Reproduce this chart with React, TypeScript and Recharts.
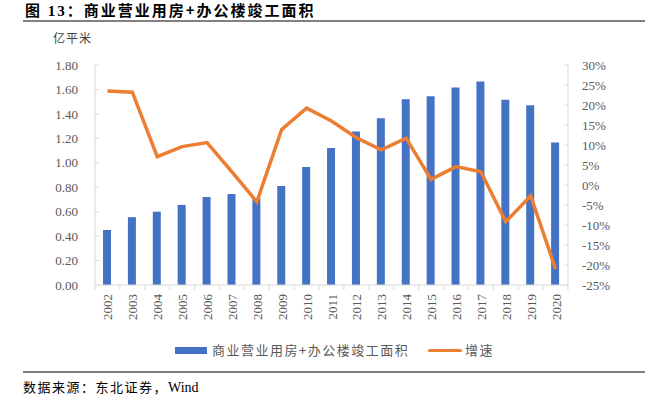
import { ComposedChart, Bar, Line, XAxis, YAxis } from 'recharts';

const years = [
  '2002', '2003', '2004', '2005', '2006', '2007', '2008', '2009', '2010', '2011',
  '2012', '2013', '2014', '2015', '2016', '2017', '2018', '2019', '2020',
];
// 商业营业用房+办公楼竣工面积 (亿平米)
const area = [
  0.45, 0.555, 0.6, 0.655, 0.72, 0.745, 0.71, 0.81, 0.965, 1.12,
  1.255, 1.365, 1.52, 1.545, 1.615, 1.665, 1.515, 1.47, 1.165,
];
// 增速 (%)
const growth = [
  23.5, 23.2, 7.1, 9.6, 10.6, 3.3, -4.2, 13.9, 19.2, 16.0,
  11.8, 8.8, 11.7, 1.4, 4.6, 3.3, -9.2, -2.7, -21.0,
];
const leftTicks = [0, 0.2, 0.4, 0.6, 0.8, 1.0, 1.2, 1.4, 1.6, 1.8];
const rightTicks = [-25, -20, -15, -10, -5, 0, 5, 10, 15, 20, 25, 30];

const data = years.map((year, i) => ({ year, area: area[i], growth: growth[i] }));

const SERIF = "'Liberation Serif', 'Times New Roman', 'Noto Sans CJK SC', serif";
const CJK = "'Noto Sans CJK SC', sans-serif";
const GRAY = '#595959';
const AXIS = '#d9d9d9';
const BLUE = '#4472C4';
const ORANGE = '#ED7D31';

const W = 663;
const M_LEFT = 35;
const M_RIGHT = 35;
const Y_W = 60;
const PLOT_W = W - M_LEFT - M_RIGHT - 2 * Y_W;
const STEP = PLOT_W / years.length;

function YearTick(props: any) {
  const { x, y, payload, index } = props;
  return (
    <g>
      {index === 0 && <line x1={x - STEP / 2} x2={x - STEP / 2} y1={y - 8} y2={y - 3} stroke={AXIS} />}
      <line x1={x + STEP / 2} x2={x + STEP / 2} y1={y - 8} y2={y - 3} stroke={AXIS} />
      <text
        x={0}
        y={0}
        transform={`translate(${x + 5},${y + 1}) rotate(-90)`}
        textAnchor="end"
        style={{ fontFamily: SERIF, fontSize: 13, fill: GRAY }}
      >
        {payload.value}
      </text>
    </g>
  );
}

export default function App() {
  return (
    <div
      style={{
        position: 'absolute',
        left: 0,
        top: 0,
        width: W,
        height: 400,
        background: '#fff',
        overflow: 'hidden',
      }}
    >
      <div
        style={{
          position: 'absolute',
          left: 25,
          top: 0,
          lineHeight: '20px',
          fontFamily: SERIF,
          fontWeight: 'bold',
          fontSize: 15,
          color: '#000',
          whiteSpace: 'nowrap',
        }}
      >
        <span style={{ letterSpacing: 2 }}>图 13：</span>
        <span style={{ fontFamily: CJK, letterSpacing: 2 }}>商业营业用房+办公楼竣工面积</span>
      </div>
      <div style={{ position: 'absolute', left: 23, top: 20, width: 622, height: 2, background: '#808080' }} />
      <div
        style={{
          position: 'absolute',
          left: 53,
          top: 29,
          lineHeight: '18px',
          fontFamily: CJK,
          fontSize: 12,
          letterSpacing: 1,
          color: '#404040',
        }}
      >
        亿平米
      </div>

      <ComposedChart
        width={W}
        height={400}
        data={data}
        margin={{ top: 65, right: M_RIGHT, bottom: 75, left: M_LEFT }}
        style={{ position: 'absolute', left: 0, top: 0 }}
      >
        <XAxis
          dataKey="year"
          interval={0}
          height={40}
          tick={<YearTick />}
          tickLine={false}
          axisLine={{ stroke: AXIS }}
        />
        <YAxis
          yAxisId="left"
          width={Y_W}
          domain={[0, 1.8]}
          ticks={leftTicks}
          interval={0}
          tickFormatter={(v: number) => v.toFixed(2)}
          tick={{ style: { fontFamily: SERIF, fontSize: 13, fill: GRAY } }}
          tickSize={-4}
          tickMargin={21}
          tickLine={{ stroke: AXIS }}
          axisLine={{ stroke: AXIS }}
        />
        <YAxis
          yAxisId="right"
          orientation="right"
          width={Y_W}
          domain={[-25, 30]}
          ticks={rightTicks}
          interval={0}
          tickFormatter={(v: number) => `${v}%`}
          tick={{ style: { fontFamily: SERIF, fontSize: 13, fill: GRAY } }}
          tickSize={-4}
          tickMargin={18}
          tickLine={{ stroke: AXIS }}
          axisLine={{ stroke: AXIS }}
        />
        <Bar yAxisId="left" dataKey="area" fill={BLUE} barSize={8} isAnimationActive={false} />
        <Line
          yAxisId="right"
          dataKey="growth"
          stroke={ORANGE}
          strokeWidth={3.5}
          dot={false}
          activeDot={false}
          type="linear"
          isAnimationActive={false}
        />
      </ComposedChart>

      <div style={{ position: 'absolute', left: 175, top: 347, width: 32, height: 7, background: BLUE }} />
      <div
        style={{
          position: 'absolute',
          left: 212,
          top: 341,
          lineHeight: '18px',
          fontFamily: CJK,
          fontSize: 13,
          letterSpacing: 1.5,
          color: GRAY,
          whiteSpace: 'nowrap',
        }}
      >
        商业营业用房+办公楼竣工面积
      </div>
      <div style={{ position: 'absolute', left: 428, top: 349, width: 34, height: 3, borderRadius: 1.5, background: ORANGE }} />
      <div
        style={{
          position: 'absolute',
          left: 465,
          top: 341,
          lineHeight: '18px',
          fontFamily: CJK,
          fontSize: 13,
          letterSpacing: 1.5,
          color: GRAY,
        }}
      >
        增速
      </div>

      <div style={{ position: 'absolute', left: 23, top: 371, width: 622, height: 2, background: '#808080' }} />
      <div
        style={{
          position: 'absolute',
          left: 23,
          top: 378,
          lineHeight: '18px',
          fontFamily: CJK,
          fontSize: 13,
          letterSpacing: 1.5,
          color: '#000',
          whiteSpace: 'nowrap',
        }}
      >
        数据来源：东北证券，<span style={{ fontFamily: SERIF, fontSize: 14, letterSpacing: 0 }}>Wind</span>
      </div>
    </div>
  );
}
